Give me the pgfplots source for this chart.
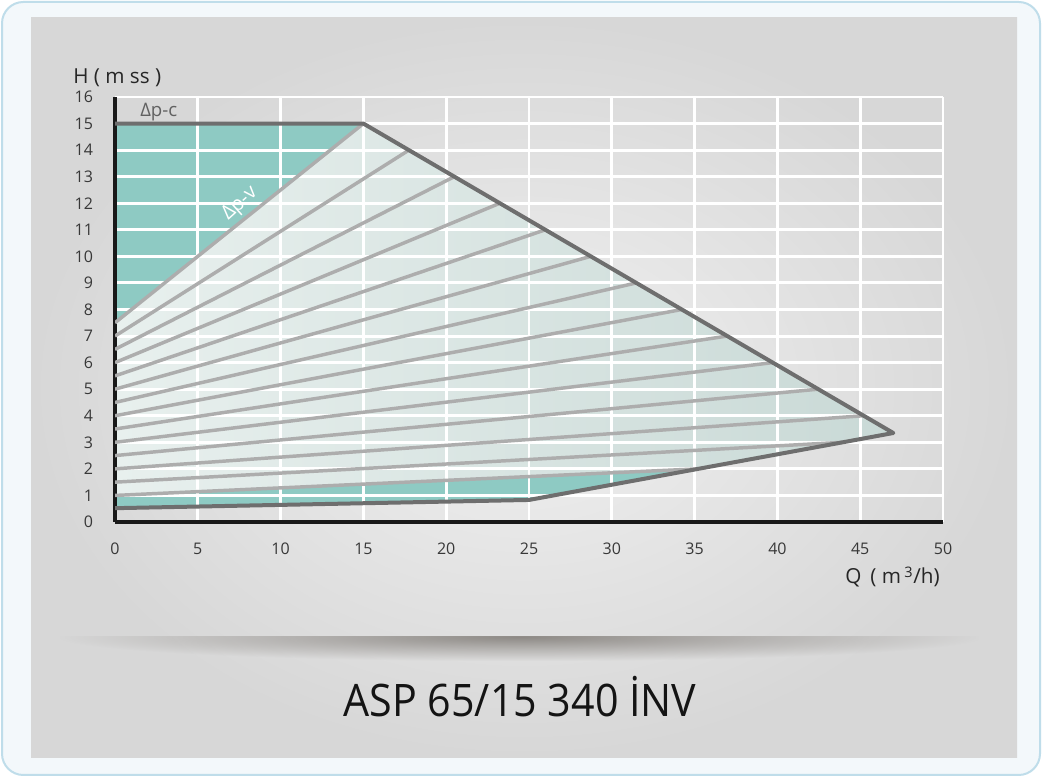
\documentclass[border=0pt]{standalone}
\usepackage{pgfplots}
\pgfplotsset{compat=1.18}
\usepackage{fontspec}
\setmainfont{Open Sans}
\usepackage{graphicx}
\usetikzlibrary{fadings}
\definecolor{frameblue}{HTML}{BFDDEA}
\definecolor{framefill}{HTML}{F3F8FB}
\definecolor{panelIn}{HTML}{F1F1F1}
\definecolor{panelOut}{HTML}{D7D7D7}
\definecolor{shadowc}{HTML}{8E8A86}
\definecolor{tealA}{HTML}{8ECAC3}
\definecolor{fanL}{HTML}{E8F0EE}
\definecolor{fanR}{HTML}{C9D9D6}
\definecolor{fanline}{HTML}{ADADAD}
\definecolor{bound}{HTML}{6E6E6E}
\definecolor{tickc}{HTML}{383838}
\tikzfading[name=shfade, inner color=transparent!0, outer color=transparent!100]
\begin{document}
\begin{tikzpicture}[x=0.75pt,y=0.75pt]
\path[use as bounding box] (0,0) rectangle (1042,777);
\fill[white] (0,0) rectangle (1042,777);
\draw[frameblue, fill=framefill, line width=1.5pt, rounded corners=16pt] (2,2) rectangle (1040,775);
\shade[inner color=panelIn, outer color=panelOut] (31,19) rectangle (1017,759);
% shelf shadow
\begin{scope}
\clip (40,100) rectangle (1000,140);
\fill[shadowc, path fading=shfade] (60,116) rectangle (980,164);
\end{scope}
% title
\node[anchor=base, inner sep=0, text=black!92] at (520,60)
  {\fontsize{33.6}{40}\selectfont\scalebox{0.92}[1]{ASP 65/15 340 İNV}};

% ---- axis 1: filled regions
\begin{axis}[at={(86.25pt,191.25pt)}, anchor=south west, scale only axis,
  width=621pt, height=318.75pt, xmin=0, xmax=50, ymin=0, ymax=16,
  hide axis, clip=false]
\addplot[draw=none, fill=tealA] coordinates {(0,15) (15,15) (47,3.35) (25,0.83) (0,0.52) (0,15)};
\addplot[draw=none, left color=fanL, right color=fanR] coordinates {(0,7.5) (15,15) (47,3.35) (35.21,2) (0,1.0) (0,7.5)};
\end{axis}

% ---- axis 2: grid, ticks, lines
\begin{axis}[at={(86.25pt,191.25pt)}, anchor=south west, scale only axis,
  width=621pt, height=318.75pt, xmin=0, xmax=50, ymin=0, ymax=16,
  xtick={0,5,...,50}, ytick={0,1,...,16},
  grid=major, major grid style={white, line width=2.2pt},
  axis x line*=bottom, axis y line*=left,
  axis line style={black!90, line width=2.6pt},
  x axis line style={-}, y axis line style={-},
  major tick length=0pt,
  /pgf/number format/assume math mode=true,
  tick label style={font=\fontsize{12}{14}\selectfont, text=tickc},
  xticklabel style={yshift=-12.5pt},
  yticklabel style={xshift=-13pt},
  ]
\addplot[fanline, line width=2.6pt] coordinates {(0,7.5) (15,15)};
\addplot[fanline, line width=2.6pt] coordinates {(0,7.0) (17.75,14)};
\addplot[fanline, line width=2.6pt] coordinates {(0,6.5) (20.49,13)};
\addplot[fanline, line width=2.6pt] coordinates {(0,6.0) (23.24,12)};
\addplot[fanline, line width=2.6pt] coordinates {(0,5.5) (25.99,11)};
\addplot[fanline, line width=2.6pt] coordinates {(0,5.0) (28.73,10)};
\addplot[fanline, line width=2.6pt] coordinates {(0,4.5) (31.48,9)};
\addplot[fanline, line width=2.6pt] coordinates {(0,4.0) (34.23,8)};
\addplot[fanline, line width=2.6pt] coordinates {(0,3.5) (36.97,7)};
\addplot[fanline, line width=2.6pt] coordinates {(0,3.0) (39.72,6)};
\addplot[fanline, line width=2.6pt] coordinates {(0,2.5) (42.47,5)};
\addplot[fanline, line width=2.6pt] coordinates {(0,2.0) (45.21,4)};
\addplot[fanline, line width=2.6pt] coordinates {(0,1.5) (43.94,3)};
\addplot[fanline, line width=2.6pt] coordinates {(0,1.0) (35.21,2)};
\addplot[bound, line width=3pt, line join=round] coordinates {(0,15) (15,15) (47,3.35) (25,0.83) (0,0.52)};
\end{axis}

% labels
\node[anchor=base west, inner sep=0, text=black!85] at (73,693) {\fontsize{15.5}{18}\selectfont H ( m ss )};
\node[anchor=base east, inner sep=0, text=black!85] at (940,193) {\fontsize{15.5}{18}\selectfont Q\, ( m\,\textsuperscript{3}/h)};
\node[anchor=base west, inner sep=0, text=black!62] at (140,660) {\fontsize{14}{16}\selectfont Δp-c};
\node[rotate=42, inner sep=0, text=white] at (240,573) {\fontsize{15}{17}\selectfont Δp-v};
\end{tikzpicture}
\end{document}
